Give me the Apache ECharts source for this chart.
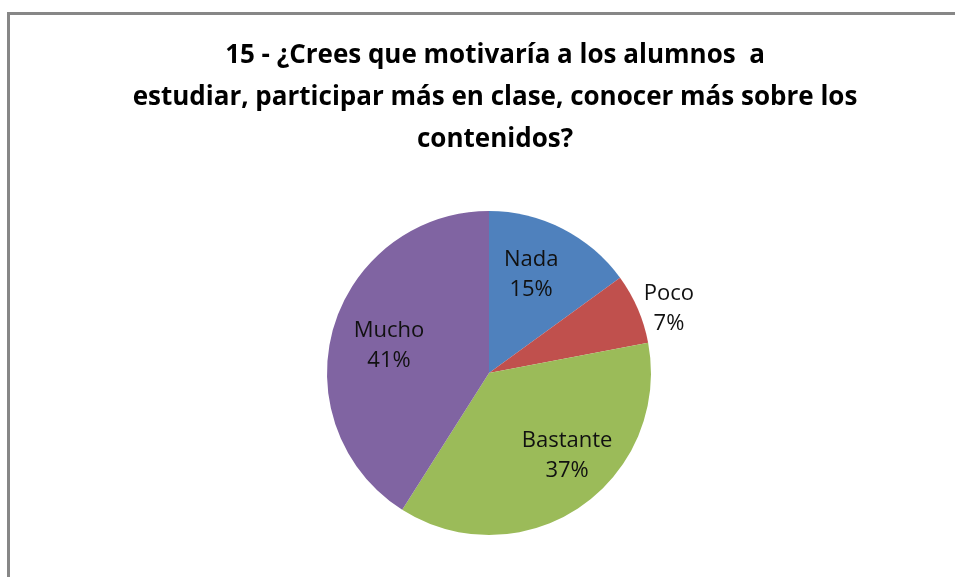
<!DOCTYPE html>
<html>
<head>
<meta charset="utf-8">
<script src="https://cdn.jsdelivr.net/npm/echarts@6/dist/echarts.min.js"></script>
<style>
html, body { margin: 0; padding: 0; background: #fff; }
#chart { width: 955px; height: 577px; }
</style>
</head>
<body>
<div id="chart"></div>
<script>
var titleText = '15 - ¿Crees que motivaría a los alumnos  a\nestudiar, participar más en clase, conocer más sobre los\ncontenidos?';
var categories = ['Nada', 'Poco', 'Bastante', 'Mucho'];
var values = [15, 7, 37, 41];
var colors = ['#4f81bd', '#c0504d', '#9bbb59', '#8064a2'];

var myChart = echarts.init(document.getElementById('chart'));

var pieCenter = [489, 373];

var pieData = categories.map(function (name, i) {
    return {name: name, value: values[i], itemStyle: {color: colors[i]}};
});

var labelStyle = {
    position: 'inside',
    formatter: '{b}\n{d}%',
    fontFamily: 'Open Sans',
    fontSize: 22,
    lineHeight: 30,
    color: '#111'
};

// Excel did not put the labels exactly on the slice middles,
// so each label gets its own invisible copy of the pie, turned a little
// (radius = twice the distance of the label from the centre)
var labelPlaces = {
    Nada: {radius: 207, start: 93.7},
    Poco: {radius: 376, start: 86.2},
    Bastante: {radius: 221, start: 99.3},
    Mucho: {radius: 201, start: 91.2}
};

function labelRing(which) {
    var place = labelPlaces[which];
    return {
        name: 'label ' + which,
        type: 'pie',
        center: pieCenter,
        radius: [0, place.radius],
        startAngle: place.start,
        clockwise: true,
        silent: true,
        label: labelStyle,
        labelLine: {show: false},
        data: categories.map(function (name, i) {
            return {
                name: name,
                value: values[i],
                itemStyle: {color: 'rgba(0,0,0,0)'},
                label: {show: name === which}
            };
        })
    };
}

var series = [{
    name: 'main',
    type: 'pie',
    center: pieCenter,
    radius: [0, 162],
    startAngle: 90,
    clockwise: true,
    silent: true,
    label: {show: false},
    labelLine: {show: false},
    data: pieData
}];
categories.forEach(function (name) {
    series.push(labelRing(name));
});

var option = {
    animation: false,
    backgroundColor: '#fff',
    title: {
        text: titleText,
        left: 490,
        top: 30,
        textAlign: 'center',
        textStyle: {
            fontFamily: 'Open Sans',
            fontWeight: 'bold',
            fontSize: 26,
            lineHeight: 42,
            color: '#000'
        }
    },
    graphic: [{
        type: 'rect',
        silent: true,
        shape: {x: 8.5, y: 13.5, width: 1000, height: 1000},
        style: {fill: 'none', stroke: '#878787', lineWidth: 3}
    }],
    series: series
};

myChart.setOption(option);
</script>
</body>
</html>
